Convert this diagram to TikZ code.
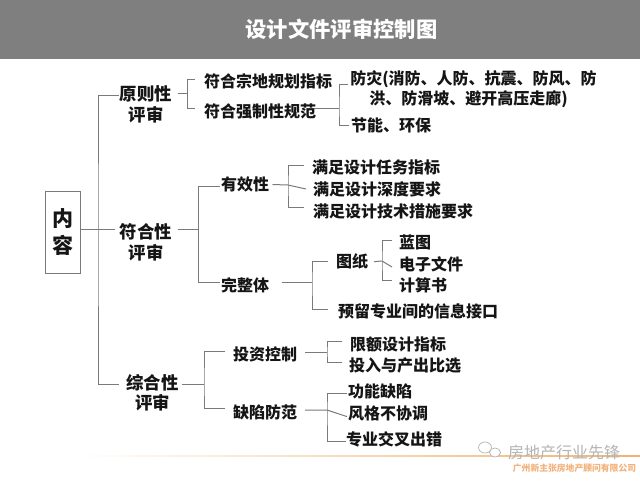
\documentclass[tikz,border=0pt]{standalone}
\usepackage{fontspec}
\setmainfont{Noto Sans CJK SC}
\definecolor{hdr}{HTML}{7F7F7F}
\definecolor{ln}{HTML}{7A7A7A}
\definecolor{ink}{HTML}{151515}
\definecolor{rule}{HTML}{F0B26E}
\definecolor{wm}{HTML}{B4B4B4}
\definecolor{co}{HTML}{F2B27A}
\tikzset{
  every node/.style={inner sep=0pt,outer sep=0pt},
  lbl/.style={font=\fontsize{16}{20}\selectfont\bfseries,text=ink,align=center},
  lblmid/.style={font=\fontsize{17.4}{20.5}\selectfont\bfseries,text=ink,align=center},
  conn/.style={draw=ln,line width=1pt,miter limit=10},
}
\begin{document}
\begin{tikzpicture}[x=1pt,y=-1pt]
\useasboundingbox (0,0) rectangle (640,480);
\fill[white] (0,0) rectangle (640,480);
% header
\fill[hdr] (0,0) rectangle (640,59);
\node[font=\fontsize{21.3}{21.3}\selectfont\bfseries,text=white] (title) at (341.5,29) {设计文件评审控制图};
% root
\node[draw=ln,line width=1pt,minimum width=35.5pt,minimum height=81.5pt,font=\fontsize{21}{27}\selectfont\bfseries,text=ink,align=center] (root) at (63.2,232.5) {内\\容};
% level 1
\node[lblmid] (yz) at (146,104.5) {原则性\\评审};
\node[lblmid] (fh) at (146,242.5) {符合性\\评审};
\node[lblmid] (zh) at (152.5,393) {综合性\\评审};
% level 2 / 3 upper
\node[lbl,anchor=west] (zb) at (204,81) {符合宗地规划指标};
\node[lbl,anchor=west] (qz) at (204,111.5) {符合强制性规范};
\node[lbl] (ff) at (473.5,89.5) {防灾(消防、人防、抗震、防风、防\\洪、防滑坡、避开高压走廊)\hspace*{10pt}};
\node[lbl,anchor=west] (jn) at (351,125.5) {节能、环保};
% middle
\node[lbl,anchor=west] (yx) at (221,184.5) {有效性};
\node[lbl,anchor=west] (wz) at (221,285) {完整体};
\node[lbl,anchor=west] (rw) at (312,167.3) {满足设计任务指标};
\node[lbl,anchor=west] (sd) at (313,189) {满足设计深度要求};
\node[lbl,anchor=west] (js) at (313,211.7) {满足设计技术措施要求};
\node[lbl,anchor=west] (tz) at (336,261.7) {图纸};
\node[lbl,anchor=west] (yl) at (338,311.5) {预留专业间的信息接口};
\node[lbl,anchor=west] (lt) at (399,242.7) {蓝图};
\node[lbl,anchor=west] (dz) at (399,264) {电子文件};
\node[lbl,anchor=west] (jsh) at (399,285) {计算书};
% lower
\node[lbl,anchor=west] (tk) at (233,354.3) {投资控制};
\node[lbl,anchor=west] (qx) at (233,412.3) {缺陷防范};
\node[lbl,anchor=west] (xe) at (350,344) {限额设计指标};
\node[lbl,anchor=west] (tr) at (349,365) {投入与产出比选};
\node[lbl,anchor=west] (gn) at (348,391) {功能缺陷};
\node[lbl,anchor=west] (fg) at (348,413.3) {风格不协调};
\node[lbl,anchor=west] (zy) at (346,439) {专业交叉出错};
% junctions
\coordinate (j0) at (98,229.7);
\coordinate (j1) at (187.5,93.7);
\coordinate (j2) at (339,108.5);
\coordinate (j3) at (198.5,229);
\coordinate (j4) at (288,185);
\coordinate (j5) at (312,282.5);
\coordinate (j6) at (382,261);
\coordinate (j7) at (204,384);
\coordinate (j8) at (327,352);
\coordinate (j9) at (327,410);
% root tree
\draw[conn] (root.east |- j0) -- ([xshift=-5pt,yshift=12.8pt]fh.west);
\draw[conn] ([xshift=-1pt,yshift=8.8pt]yz.west) -| (j0) |- ([xshift=-7pt,yshift=9pt]zh.west);
% upper
\draw[conn] ([xshift=6pt,yshift=10.8pt]yz.east) -- (j1);
\draw[conn] ([xshift=-9pt,yshift=2pt]zb.west) -| (j1) |- ([xshift=-9pt,yshift=3pt]qz.west);
\draw[conn] ([xshift=-2pt,yshift=3pt]qz.east) -- (j2);
\draw[conn] ([xshift=-2pt,yshift=5.5pt]ff.west) -| (j2) |- ([xshift=-2pt]jn.west);
% middle
\draw[conn] ([xshift=6pt,yshift=13.5pt]fh.east) -- (j3);
\draw[conn] ([xshift=-1pt,yshift=-2.2pt]yx.west) -| (j3) |- ([xshift=-1pt,yshift=2.7pt]wz.west);
\draw[conn] ([xshift=3.5pt]yx.east) -- (j4) -- ([xshift=-7pt]sd.west);
\draw[conn] ([xshift=-8pt,yshift=2.3pt]rw.west) -| (j4) |- ([xshift=-9pt,yshift=4.4pt]js.west);
\draw[conn] ([xshift=13pt,yshift=2.5pt]wz.east) -- (j5);
\draw[conn] ([xshift=-8pt]tz.west) -| (j5) |- ([xshift=-10pt,yshift=2.5pt]yl.west);
\draw[conn] ([xshift=6pt]tz.east) -- (j6) -- ([xshift=-7pt,yshift=-3pt]dz.west);
\draw[conn] ([xshift=-7pt,yshift=2.7pt]lt.west) -| (j6) |- ([xshift=-7pt,yshift=5pt]jsh.west);
% lower
\draw[conn] ([xshift=3pt,yshift=9pt]zh.east) -- (j7);
\draw[conn] ([xshift=-8pt,yshift=3pt]tk.west) -| (j7) |- ([xshift=-8pt,yshift=3.4pt]qx.west);
\draw[conn] ([xshift=8pt,yshift=2.3pt]tk.east) -- (j8);
\draw[conn] ([xshift=-8pt,yshift=2.3pt]xe.west) -| (j8) |- ([xshift=-7pt,yshift=2.7pt]tr.west);
\draw[conn] ([xshift=8pt,yshift=2.3pt]qx.east) -- (j9) -- ([xshift=-1pt,yshift=-3.3pt]fg.west);
\draw[conn] ([xshift=-1pt,yshift=-2pt]gn.west) -| (j9) |- ([yshift=-2.3pt]zy.west);
% footer
\shade[left color=white,middle color=rule!60!white,right color=rule] (80,455) rectangle (640,456.6);
\draw[wm,line width=.7pt,fill=white] (485,447.5) ellipse (6.5pt and 5.5pt);
\draw[wm,line width=.7pt,fill=white] (495,452.5) ellipse (5.5pt and 4.5pt);
\node[font=\fontsize{16}{16}\selectfont,text=wm] (wmk) at (564,452.5) {房地产行业先锋};
\node[font=\fontsize{8.8}{9}\selectfont\bfseries,text=co] (co) at (574.5,468) {广州新主张房地产顾问有限公司};
\end{tikzpicture}
\end{document}
